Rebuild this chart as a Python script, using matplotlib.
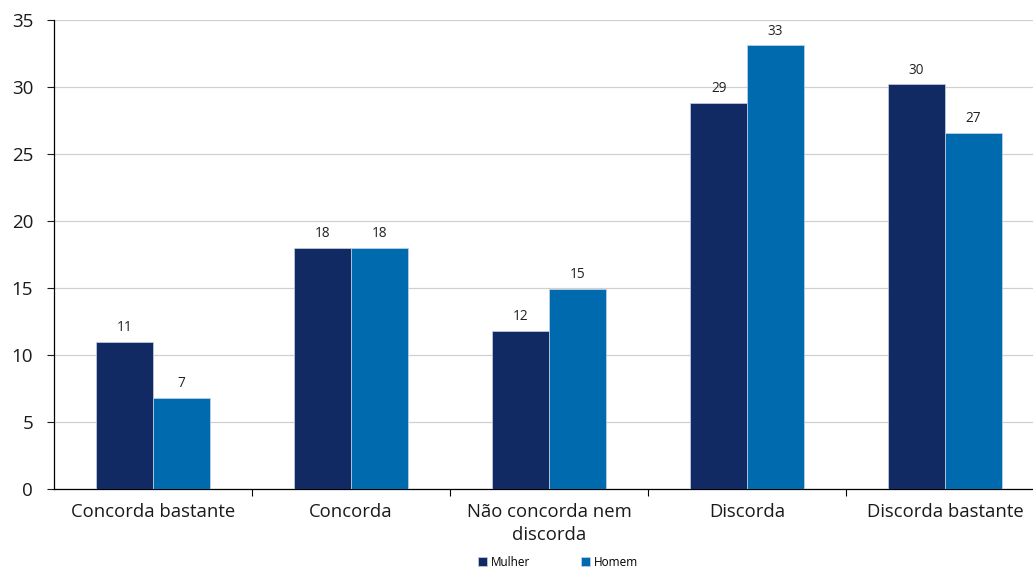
import matplotlib
matplotlib.use("Agg")
import matplotlib.pyplot as plt
import numpy as np

categories = ["Concorda bastante", "Concorda", "Não concorda nem\ndiscorda", "Discorda", "Discorda bastante"]
mulher = [11.0, 18.0, 11.8, 28.8, 30.2]
homem = [6.8, 18.0, 14.95, 33.1, 26.6]
series_names = ["Mulher", "Homem"]
colors = ["#122a63", "#006aae"]

plt.rcParams['font.family'] = ['Open Sans', 'DejaVu Sans']

fig = plt.figure(figsize=(10.33, 5.67), dpi=100)
ax = fig.add_axes([54/1033, 78/567, 990/1033, 469/567])

x = np.arange(len(categories))
w = 0.286
b1 = ax.bar(x - w/2, mulher, w, color=colors[0], edgecolor="#c8d3e6", linewidth=0.5, label=series_names[0], zorder=3)
b2 = ax.bar(x + w/2, homem, w, color=colors[1], edgecolor="#c8d3e6", linewidth=0.5, label=series_names[1], zorder=3)

for bars, vals in ((b1, mulher), (b2, homem)):
    for r, v in zip(bars, vals):
        ax.text(r.get_x() + r.get_width()/2, v + 0.5, f"{round(v):d}", ha="center", va="bottom",
                fontsize=9.8, color="#222222")

ax.set_xlim(-0.5, len(categories) - 0.5)
ax.set_ylim(0, 35)
ax.set_yticks(range(0, 36, 5))
ax.yaxis.grid(True, color="#d0d0d0", linewidth=0.9, zorder=0)
ax.set_axisbelow(True)

ax.set_xticks(x)
ax.set_xticklabels(categories, fontsize=13.3, color="#1a1a1a", linespacing=1.35)
ax.tick_params(axis="x", length=0, pad=10)
ax.set_xticks(np.arange(0.5, len(categories) - 0.5, 1), minor=True)
ax.tick_params(axis="x", which="minor", length=5, color="black", width=0.8)
ax.tick_params(axis="y", length=5, width=0.8, labelsize=13.5, colors="#1a1a1a", pad=10)

for s in ("top", "right"):
    ax.spines[s].set_visible(False)
ax.spines["left"].set_color("black")
ax.spines["bottom"].set_color("black")
ax.spines["left"].set_linewidth(0.9)
ax.spines["bottom"].set_linewidth(0.9)

fig.legend(handles=[b1, b2], labels=series_names, loc="center", bbox_to_anchor=(558/1033, 1 - 562/567),
           ncol=2, frameon=False, fontsize=8.5, handlelength=0.8, handleheight=0.8,
           handletextpad=0.3, columnspacing=4.3)

fig.savefig("out.png", dpi=100)
